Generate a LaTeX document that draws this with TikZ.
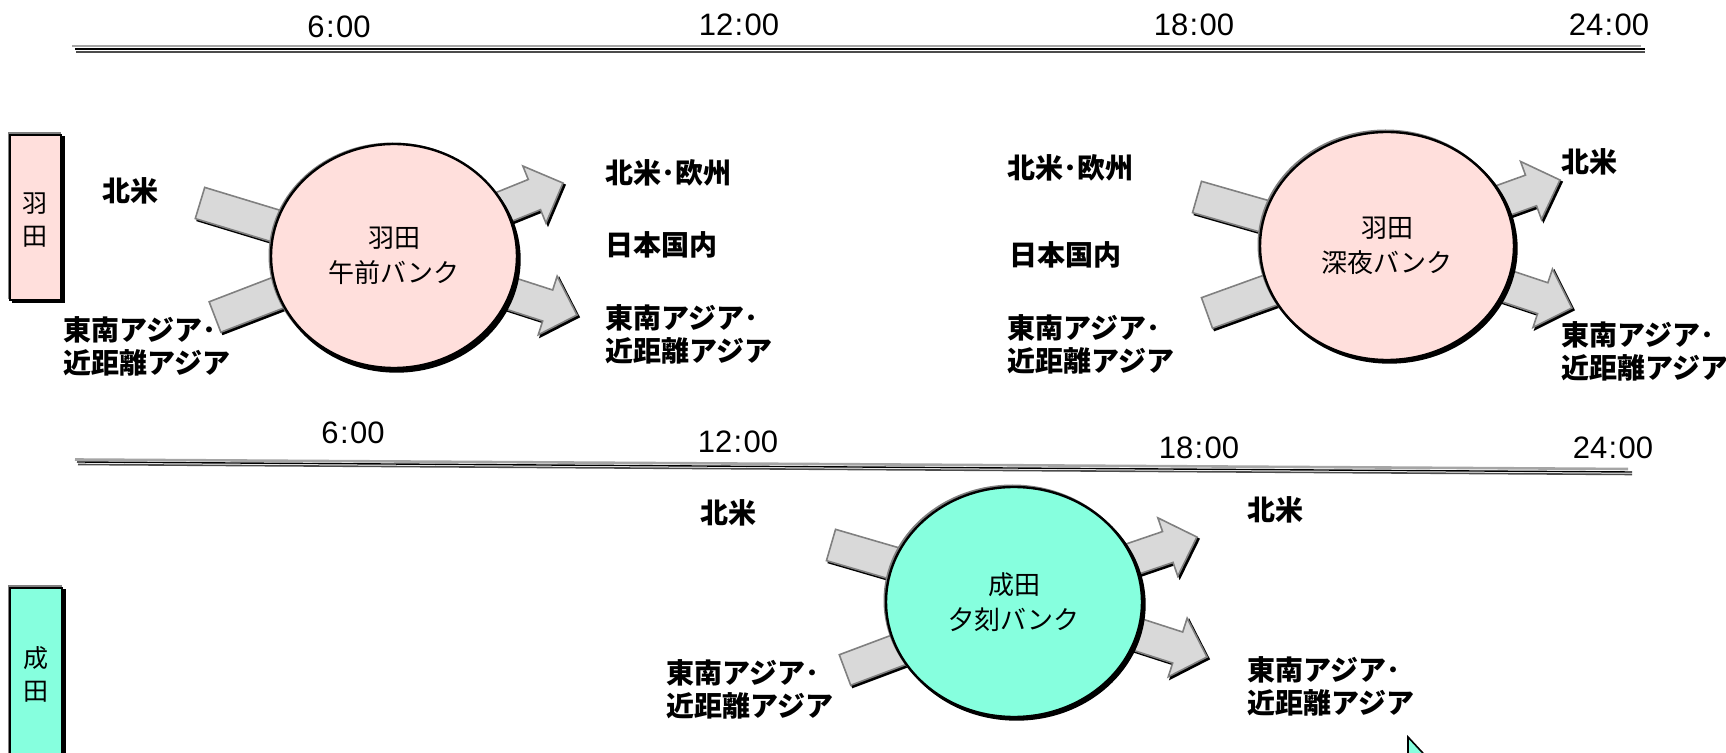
\documentclass[tikz,border=0pt]{standalone}
\usepackage{fontspec}
\setmainfont{Liberation Sans}
\newfontfamily\jp{Noto Sans CJK JP}
\usetikzlibrary{shapes.geometric,shapes.arrows,calc}

\definecolor{pinkfill}{RGB}{255,223,220}
\definecolor{aquafill}{RGB}{134,255,222}
\definecolor{arrowfill}{RGB}{217,217,217}
\definecolor{edgegray}{RGB}{128,128,128}
\definecolor{lightedge}{RGB}{165,165,165}

\tikzset{
  barrow/.style={single arrow, draw=edgegray, line width=0.8pt, fill=arrowfill,
    inner xsep=0pt, inner ysep=7.75pt, single arrow head extend=7.25pt,
    single arrow head indent=0pt, outer sep=0pt, anchor=tail},
  barrowshadow/.style={barrow, draw=black, fill=black},
  bank/.style={ellipse, draw=black, line width=1.2pt, align=center, inner sep=0pt,
    font=\jp\fontsize{13}{17.5}\selectfont},
  bankshadow/.style={ellipse, draw=black, fill=black, line width=1.2pt, inner sep=0pt},
  bankhalo/.style={ellipse, draw=edgegray, line width=1pt, inner sep=0pt},
  airport/.style={rectangle, draw=black, line width=1pt, inner sep=0pt},
  airportshadow/.style={rectangle, draw=black, fill=black, line width=1pt, inner sep=0pt},
  airporthalo/.style={rectangle, draw=edgegray, line width=1pt, inner sep=0pt},
  airportlabel/.style={align=center, inner sep=0pt, font=\jp\fontsize{12.5}{16.5}\selectfont},
  lbl/.style={anchor=west, align=left, inner sep=0pt,
    font=\jp\bfseries\fontsize{14}{16.5}\selectfont},
  timelbl/.style={inner sep=0pt, font=\fontsize{15.5}{18}\selectfont},
  tlgray/.style={draw=lightedge, line width=1.3pt},
  tlblack/.style={draw=black, line width=0.7pt},
  tldark/.style={draw=black!70, line width=0.8pt},
}

\newcommand\blockarrow[3]{% name, tail coordinate, tip coordinate
  \path let \p1=($(#3)-(#2)$), \n1={atan2(\y1,\x1)}, \n2={veclen(\x1,\y1)} in
    node[barrowshadow, rotate=\n1, minimum height=\n2] (#1s) at ($(#2)+(2,2)$) {}
    node[barrow, rotate=\n1, minimum height=\n2] (#1) at (#2) {};
}

\begin{document}
\begin{tikzpicture}[x=0.5pt, y=-0.5pt]
\useasboundingbox (0,0) rectangle (1726,753);
\clip (0,0) rectangle (1726,753);

% ---------- top timeline ----------
\coordinate (tga) at (72,46);   \coordinate (tgb) at (1641,46);
\coordinate (tba) at (75,49);   \coordinate (tbb) at (1645,49);
\coordinate (tda) at (76,52);   \coordinate (tdb) at (1645,52);
\draw[tlgray] (tga) -- (tgb);
\draw[tlblack] (tba) -- (tbb);
\draw[tldark] (tda) -- (tdb);
\node[timelbl] (t6)  at (339,27) {6\kern0.7pt:\kern0.7pt00};
\node[timelbl] (t12) at (739,25) {12\kern0.7pt:\kern0.7pt00};
\node[timelbl] (t18) at (1194,25) {18\kern0.7pt:\kern0.7pt00};
\node[timelbl] (t24) at (1609,25) {24\kern0.7pt:\kern0.7pt00};

% ---------- bottom timeline ----------
\coordinate (bga) at (75,459.5);  \coordinate (bgb) at (1628,469);
\coordinate (bba) at (77,462);    \coordinate (bbb) at (1632,472);
\coordinate (bda) at (78,464.5);  \coordinate (bdb) at (1632,474.5);
\draw[tlgray] (bga) -- (bgb);
\draw[tlblack] (bba) -- (bbb);
\draw[tldark] (bda) -- (bdb);
\node[timelbl] (u6)  at (353,433) {6\kern0.7pt:\kern0.7pt00};
\node[timelbl] (u12) at (738,442) {12\kern0.7pt:\kern0.7pt00};
\node[timelbl] (u18) at (1199,448) {18\kern0.7pt:\kern0.7pt00};
\node[timelbl] (u24) at (1613,448) {24\kern0.7pt:\kern0.7pt00};

% ---------- airport boxes ----------
\node[airporthalo, minimum width=25.5pt, minimum height=82.5pt] (hboxh) at (34,216) {};
\node[airportshadow, minimum width=25.5pt, minimum height=82.5pt] (hboxs) at (38.5,220) {};
\node[airport, fill=pinkfill, minimum width=25.5pt, minimum height=82.5pt] (hbox) at (35.5,217.5) {};
\node[airportlabel] (hlab) at (35.5,220) {羽\\田};

\node[airporthalo, minimum width=26pt, minimum height=101pt] (nboxh) at (34.5,687) {};
\node[airportshadow, minimum width=26pt, minimum height=101pt] (nboxs) at (39,691) {};
\node[airport, fill=aquafill, minimum width=26pt, minimum height=101pt] (nbox) at (36,689) {};
\node[airportlabel] (nlab) at (36,674) {成\\田};

% ---------- arrow coordinates ----------
\coordinate (a1t) at (200,203);  \coordinate (a1h) at (345,247);
\coordinate (a2t) at (215,317);  \coordinate (a2h) at (345,267);
\coordinate (a3t) at (442,232);  \coordinate (a3h) at (563,183);
\coordinate (a4t) at (453,275);  \coordinate (a4h) at (577,315);
\coordinate (b1t) at (1197,197); \coordinate (b1h) at (1340,238);
\coordinate (b2t) at (1207,313); \coordinate (b2h) at (1340,265);
\coordinate (b3t) at (1438,224); \coordinate (b3h) at (1560,180);
\coordinate (b4t) at (1449,267); \coordinate (b4h) at (1572,308);
\coordinate (c1t) at (831,545);  \coordinate (c1h) at (965,584);
\coordinate (c2t) at (845,670);  \coordinate (c2h) at (965,625);
\coordinate (c3t) at (1074,579); \coordinate (c3h) at (1197,537);
\coordinate (c4t) at (1083,617); \coordinate (c4h) at (1207,657);

\blockarrow{a1}{a1t}{a1h}
\blockarrow{a2}{a2t}{a2h}
\blockarrow{a3}{a3t}{a3h}
\blockarrow{a4}{a4t}{a4h}
\blockarrow{b1}{b1t}{b1h}
\blockarrow{b2}{b2t}{b2h}
\blockarrow{b3}{b3t}{b3h}
\blockarrow{b4}{b4t}{b4h}
\blockarrow{c1}{c1t}{c1h}
\blockarrow{c2}{c2t}{c2h}
\blockarrow{c3}{c3t}{c3h}
\blockarrow{c4}{c4t}{c4h}

% ---------- bank circles ----------
\node[bankhalo, minimum width=123pt, minimum height=112pt] (bank1h) at (392.5,255.5) {};
\node[bankshadow, minimum width=123pt, minimum height=112pt] (bank1s) at (396.5,259.5) {};
\node[bank, fill=pinkfill, minimum width=123pt, minimum height=112pt] (bank1) at (394,256) {羽田\\午前バンク};

\node[bankhalo, minimum width=127pt, minimum height=114pt] (bank2h) at (1385.5,244.5) {};
\node[bankshadow, minimum width=127pt, minimum height=114pt] (bank2s) at (1389.5,248.5) {};
\node[bank, fill=pinkfill, minimum width=127pt, minimum height=114pt] (bank2) at (1387,246) {羽田\\深夜バンク};

\node[bankhalo, minimum width=128pt, minimum height=115pt] (bank3h) at (1012.5,600.5) {};
\node[bankshadow, minimum width=128pt, minimum height=115pt] (bank3s) at (1016.5,604.5) {};
\node[bank, fill=aquafill, minimum width=128pt, minimum height=115pt] (bank3) at (1014,602) {成田\\夕刻バンク};

% ---------- destination labels ----------
\node[lbl] (l1) at (102,191) {北米};
\node[lbl] (l5) at (63,346) {東南アジア･\\近距離アジア};
\node[lbl] (l2) at (605,173) {北米･欧州};
\node[lbl] (l3) at (605,245) {日本国内};
\node[lbl] (l4) at (605,334) {東南アジア･\\近距離アジア};

\node[lbl] (l6) at (1007,168) {北米･欧州};
\node[lbl] (l7) at (1009,255) {日本国内};
\node[lbl] (l8) at (1007,344) {東南アジア･\\近距離アジア};
\node[lbl] (l9) at (1561,162) {北米};
\node[lbl] (l10) at (1561,351) {東南アジア･\\近距離アジア};

\node[lbl] (l11) at (700,513) {北米};
\node[lbl] (l12) at (666,689) {東南アジア･\\近距離アジア};
\node[lbl] (l13) at (1247,510) {北米};
\node[lbl] (l14) at (1247,686) {東南アジア･\\近距離アジア};

% ---------- mouse pointer ----------
\coordinate (cur1) at (1408,737);
\coordinate (cur2) at (1408,772);
\coordinate (cur3) at (1416,764);
\coordinate (cur4) at (1433,764);
\draw[black, line width=0.8pt, fill=aquafill] (cur1) -- (cur2) -- (cur3) -- (cur4) -- cycle;
\end{tikzpicture}
\end{document}
